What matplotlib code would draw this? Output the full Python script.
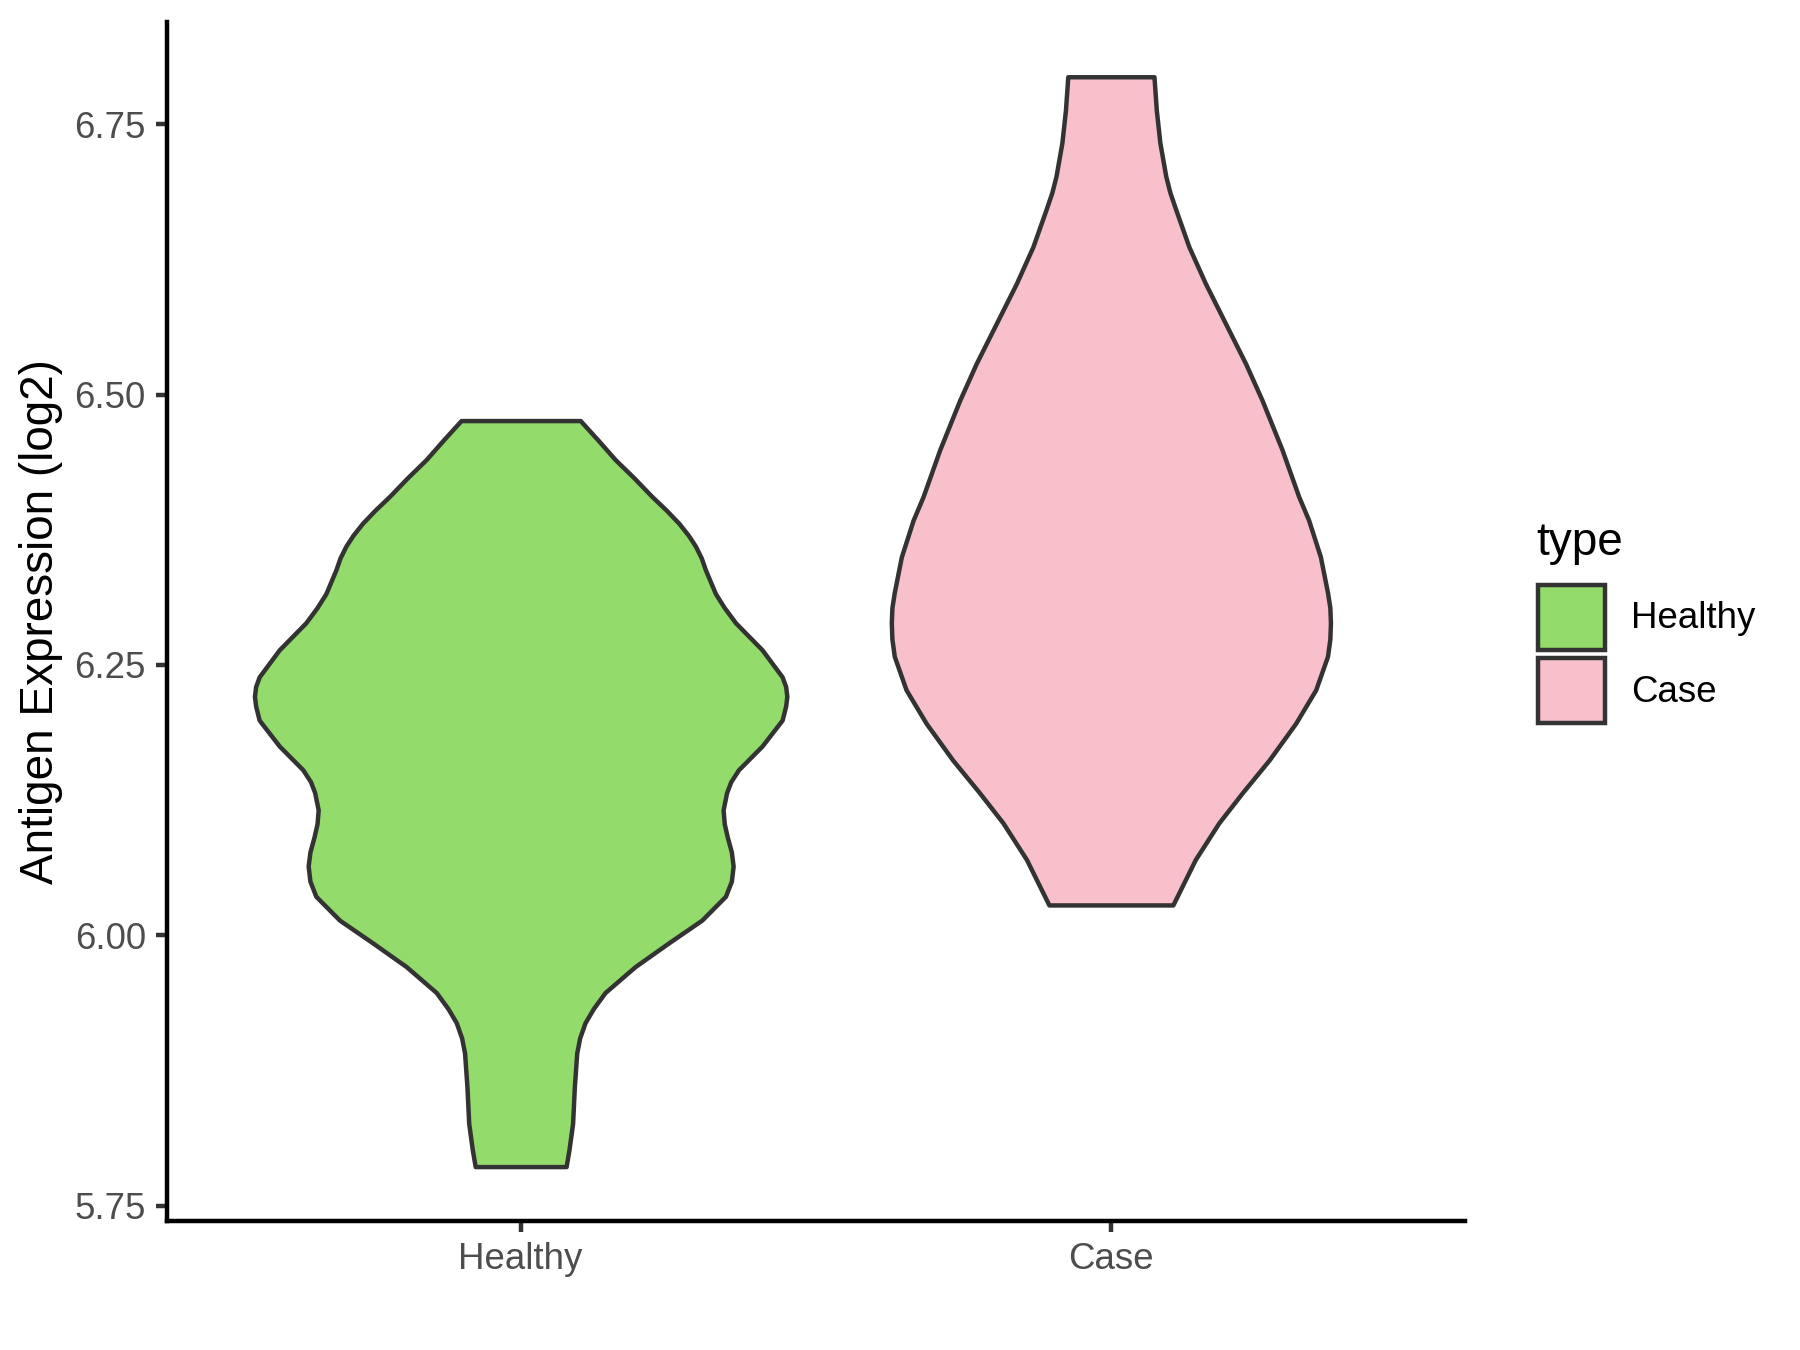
import matplotlib
matplotlib.use("Agg")
import matplotlib.pyplot as plt
from matplotlib.patches import Rectangle

# ---- data ----
groups = ["Healthy", "Case"]
colors = ["#93DB6A", "#F7C0CB"]

# violin outlines: expression level and half width (in category units)
healthy_y = [6.476, 6.458, 6.440, 6.423, 6.406, 6.393, 6.381, 6.370, 6.360, 6.349, 6.338,
             6.316, 6.303, 6.289, 6.264, 6.239, 6.230,
             6.221, 6.212, 6.199, 6.175, 6.153, 6.142, 6.132, 6.116, 6.103, 6.091, 6.077,
             6.064, 6.050, 6.036, 6.014,
             5.993, 5.971, 5.947, 5.932, 5.919, 5.905, 5.891, 5.860, 5.826, 5.802, 5.786]
healthy_w = [0.101, 0.131, 0.160, 0.192, 0.222, 0.247, 0.268, 0.284, 0.296, 0.306, 0.313,
             0.330, 0.345, 0.364, 0.409, 0.443, 0.449,
             0.451, 0.449, 0.443, 0.409, 0.369, 0.356, 0.349, 0.343, 0.345, 0.350, 0.357,
             0.360, 0.357, 0.347, 0.307,
             0.251, 0.194, 0.143, 0.123, 0.109, 0.100, 0.095, 0.091, 0.088, 0.082, 0.077]

case_y = [6.794, 6.763, 6.733, 6.702, 6.687, 6.671, 6.637, 6.603, 6.566, 6.529, 6.495,
          6.449, 6.406, 6.384, 6.350, 6.317, 6.303, 6.289, 6.274, 6.258, 6.227, 6.196,
          6.162, 6.132, 6.104, 6.070, 6.049, 6.028]
case_w = [0.073, 0.077, 0.083, 0.093, 0.100, 0.110, 0.132, 0.160, 0.194, 0.228, 0.256,
          0.290, 0.318, 0.335, 0.355, 0.367, 0.371, 0.372, 0.371, 0.367, 0.347, 0.313,
          0.268, 0.223, 0.183, 0.143, 0.124, 0.105]

yticks = [5.75, 6.00, 6.25, 6.50, 6.75]
ytick_labels = ["5.75", "6.00", "6.25", "6.50", "6.75"]

plt.rcParams['font.family'] = ['Liberation Sans', 'DejaVu Sans']

fig = plt.figure(figsize=(6, 4.5), dpi=300)
ax = fig.add_axes([0.0925, 0.0955, 0.7214, 0.888])

lw = 1.07
profiles = [(healthy_y, healthy_w), (case_y, case_w)]
for i, (ys, ws) in enumerate(profiles):
    pos = i + 1
    left = [pos - w for w in ws]
    right = [pos + w for w in ws]
    ax.fill_betweenx(ys, left, right, facecolor=colors[i], edgecolor="#333333",
                     linewidth=lw, joinstyle="round")

ax.set_xlim(0.4, 2.6)
ax.set_ylim(5.7356, 6.8444)
ax.set_xticks([1, 2])
ax.set_xticklabels(groups)
ax.set_yticks(yticks)
ax.set_yticklabels(ytick_labels)
ax.tick_params(axis="both", colors="#333333", width=lw, length=2.75,
               labelsize=8.8, labelcolor="#4D4D4D", pad=2.2)
for s in ["top", "right"]:
    ax.spines[s].set_visible(False)
for s in ["left", "bottom"]:
    ax.spines[s].set_linewidth(lw)
    ax.spines[s].set_color("black")
ax.set_ylabel("Antigen Expression (log2)", fontsize=11, color="black", labelpad=2.75)

# ---- legend drawn by hand (ggplot style) ----
W, H = 1800.0, 1350.0
fig.text(1536.7 / W, 1 - 555 / H, "type", fontsize=11, ha="left", va="baseline")
key_tops = [585, 658]
for i, g in enumerate(groups):
    top = key_tops[i]
    rect = Rectangle((1538 / W, 1 - (top + 65) / H), 67 / W, 65 / H,
                     transform=fig.transFigure, facecolor=colors[i],
                     edgecolor="#333333", linewidth=lw)
    fig.add_artist(rect)
    fig.text(1631 / W, 1 - (top + 34) / H, g, fontsize=8.8, ha="left", va="center")

fig.savefig("out.png", dpi=300, facecolor="white")
